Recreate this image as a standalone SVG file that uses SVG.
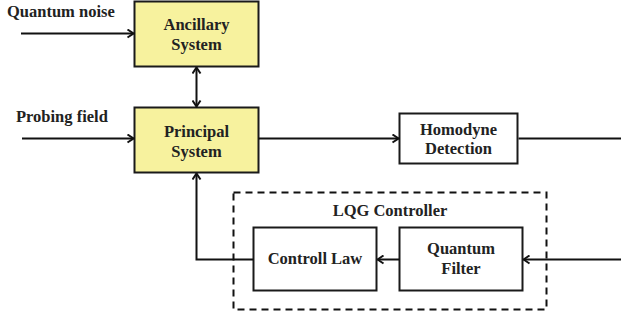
<svg xmlns="http://www.w3.org/2000/svg" width="621" height="320" viewBox="0 0 621 320">
<style>
.box{fill:#fff;stroke:#1a1a1a;stroke-width:2}
.yel{fill:#f7f29e}
.t{font-family:"Liberation Serif","Times New Roman",serif;font-weight:bold;font-size:16.5px;fill:#222;text-anchor:middle}
.l{text-anchor:start}
.c{fill:none;stroke:#111;stroke-width:2}
</style>
<defs>
<marker id="a" viewBox="0 0 10 10" refX="9" refY="5" markerWidth="10" markerHeight="10" markerUnits="userSpaceOnUse" orient="auto-start-reverse">
<path d="M3,1 L9,5 L3,9" fill="none" stroke="#111" stroke-width="2"/>
</marker>
</defs>
<g id="ancillary">
<rect class="box yel" x="134.5" y="1.5" width="124" height="65"/>
<text class="t" x="196.5" y="30">Ancillary</text>
<text class="t" x="196.5" y="50">System</text>
</g>
<g id="principal">
<rect class="box yel" x="134.5" y="107.5" width="124" height="65"/>
<text class="t" x="196.5" y="137">Principal</text>
<text class="t" x="196.5" y="157">System</text>
</g>
<g id="homodyne">
<rect class="box" x="399.5" y="113.5" width="118" height="50"/>
<text class="t" x="458.5" y="135">Homodyne</text>
<text class="t" x="458.5" y="154">Detection</text>
</g>
<g id="lqg">
<rect x="233.5" y="192.5" width="313" height="117" fill="none" stroke="#111" stroke-width="2" stroke-dasharray="7,5"/>
<text class="t" x="390" y="216">LQG Controller</text>
</g>
<g id="controllaw">
<rect class="box" x="253.5" y="227.5" width="123" height="63"/>
<text class="t" x="315" y="264">Controll Law</text>
</g>
<g id="filter">
<rect class="box" x="399.5" y="227.5" width="123" height="63"/>
<text class="t" x="461" y="254">Quantum</text>
<text class="t" x="461" y="274">Filter</text>
</g>
<g id="labels">
<text class="t l" x="7" y="17">Quantum noise</text>
<text class="t l" x="16" y="122">Probing field</text>
</g>
<g id="connectors">
<line class="c" x1="21" y1="33.5" x2="133.5" y2="33.5" marker-end="url(#a)"/>
<line class="c" x1="22" y1="138.5" x2="133.5" y2="138.5" marker-end="url(#a)"/>
<line class="c" x1="196.5" y1="67.5" x2="196.5" y2="106.5" marker-start="url(#a)" marker-end="url(#a)"/>
<line class="c" x1="258.5" y1="138.5" x2="398.5" y2="138.5" marker-end="url(#a)"/>
<line class="c" x1="518.5" y1="138.5" x2="621" y2="138.5"/>
<line class="c" x1="621" y1="259.5" x2="523.5" y2="259.5" marker-end="url(#a)"/>
<line class="c" x1="399.5" y1="259.5" x2="377.5" y2="259.5" marker-end="url(#a)"/>
<polyline class="c" points="253.5,259.5 196.5,259.5 196.5,173.5" marker-end="url(#a)"/>
</g>
</svg>
